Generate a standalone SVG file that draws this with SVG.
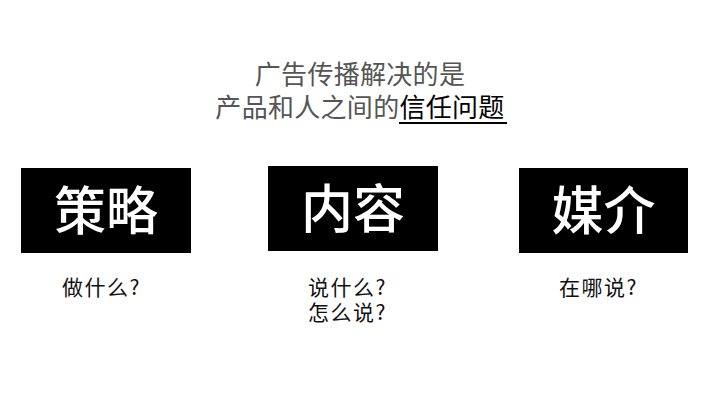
<svg xmlns="http://www.w3.org/2000/svg" width="720" height="405" viewBox="0 0 720 405">
<style>
  text { font-family: "Noto Sans CJK SC", "Noto Sans", sans-serif; }
  .title { font-size: 26px; fill: #555555; text-anchor: middle; letter-spacing: 0.3px; }
  .box { fill: #000000; }
  .big { font-size: 52px; font-weight: 500; fill: #ffffff; text-anchor: middle; }
  .lbl { font-size: 21px; fill: #111111; letter-spacing: 1.5px; }
</style>
<rect width="720" height="405" fill="#ffffff"/>
<g id="title">
  <text class="title" x="360" y="84">广告传播解决的是</text>
  <text class="title" x="360" y="117">产品和人之间的<tspan fill="#000000">信任问题</tspan></text>
  <line x1="399" y1="123" x2="507" y2="123" stroke="#000000" stroke-width="2"/>
</g>
<g id="node-strategy">
  <rect class="box" x="21" y="168" width="170" height="85"/>
  <text class="big" x="106" y="230">策略</text>
  <text class="lbl" x="62" y="295">做什么?</text>
</g>
<g id="node-content">
  <rect class="box" x="268" y="166" width="170" height="85"/>
  <text class="big" x="353" y="228">内容</text>
  <text class="lbl" x="308" y="295">说什么?</text>
  <text class="lbl" x="308" y="320">怎么说?</text>
</g>
<g id="node-media">
  <rect class="box" x="519" y="168" width="169" height="85"/>
  <text class="big" x="603.5" y="230">媒介</text>
  <text class="lbl" x="559" y="295">在哪说?</text>
</g>
</svg>
